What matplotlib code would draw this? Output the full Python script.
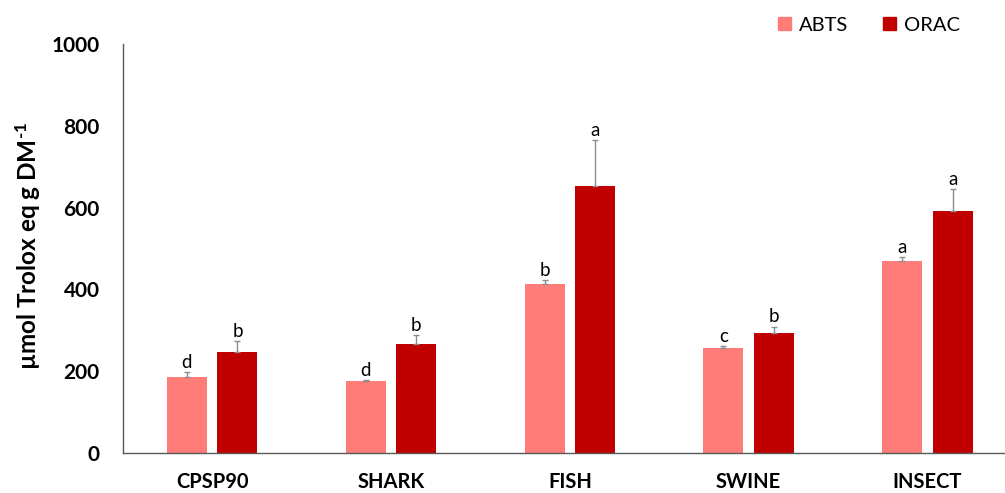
import numpy as np
import matplotlib
matplotlib.use('Agg')
import matplotlib.pyplot as plt
from matplotlib.patches import Patch

plt.rcParams['font.family'] = ['Lato', 'DejaVu Sans']
plt.rcParams['mathtext.fontset'] = 'custom'
plt.rcParams['mathtext.rm'] = 'Lato:bold'
plt.rcParams['mathtext.default'] = 'rm'

samples = ['CPSP90', 'SHARK', 'FISH', 'SWINE', 'INSECT']
abts = [187, 175, 412, 257, 469]
abts_err = [11, 4, 10, 4, 11]
abts_grp = ['d', 'd', 'b', 'c', 'a']
orac = [248, 267, 652, 293, 591]
orac_err = [26, 21, 113, 16, 55]
orac_grp = ['b', 'b', 'a', 'b', 'a']

c_abts = '#FF7C78'
c_orac = '#C00000'

fig = plt.figure(figsize=(10.05, 4.93), dpi=100)
ax = fig.add_axes([0.1221, 0.0811, 0.8779, 0.8297])

x = np.arange(len(samples))
w = 0.224
off = 0.1415

for xs, vals, errs, grp, col in [(x - off, abts, abts_err, abts_grp, c_abts),
                                  (x + off, orac, orac_err, orac_grp, c_orac)]:
    ax.bar(xs, vals, width=w, color=col, zorder=2)
    ax.errorbar(xs, vals, yerr=[np.zeros(len(vals)), errs], fmt='none',
                ecolor='#8c8c8c', elinewidth=1, capsize=2.5, capthick=1, zorder=3)
    for xi, v, e, g in zip(xs, vals, errs, grp):
        ax.annotate(g, (xi, v + e), xytext=(0, 3), textcoords='offset points',
                    ha='center', va='baseline', fontsize=13.5)

ax.set_xlim(-0.5, 4.433)
ax.set_ylim(0, 1000)
ax.set_yticks(np.arange(0, 1001, 200))
ax.set_xticks(x)
ax.set_xticklabels(samples, fontweight='bold', fontsize=14.5)
for lb in ax.get_yticklabels():
    lb.set_fontweight('bold')
    lb.set_fontsize(15)
ax.tick_params(axis='y', length=0, pad=16.5)
ax.tick_params(axis='x', length=0, pad=14)

for s in ['top', 'right']:
    ax.spines[s].set_visible(False)
for s in ['left', 'bottom']:
    ax.spines[s].set_color('#595959')
    ax.spines[s].set_linewidth(1)

fig.text(28 / 1005, 0.502, r'µmol Trolox eq g DM$^{\text{-}1}$', rotation=90,
         ha='center', va='center', fontsize=17.5, fontweight='bold')

handles = [Patch(color=c_abts, label='ABTS'), Patch(color=c_orac, label='ORAC')]
fig.legend(handles=handles, ncol=2, loc='center', bbox_to_anchor=(0.8647, 0.949),
           frameon=False, fontsize=14.5, handlelength=0.67, handleheight=0.67,
           handletextpad=0.4, columnspacing=1.7)

fig.savefig('out.png', dpi=100)
